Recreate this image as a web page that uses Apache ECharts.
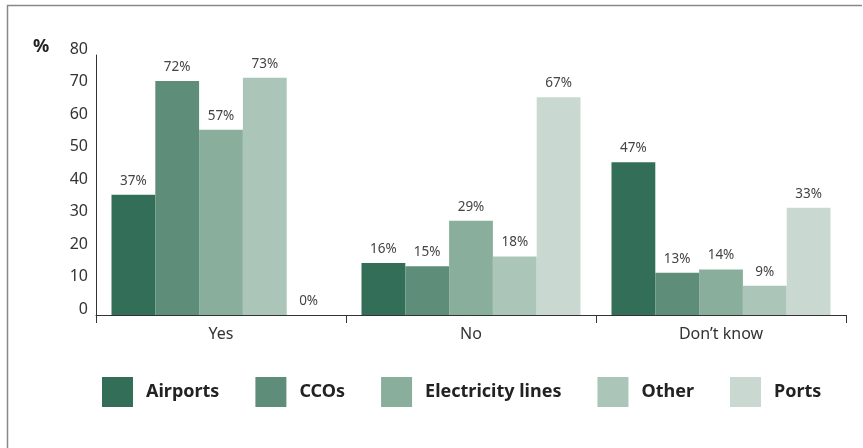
<!DOCTYPE html>
<html>
<head>
<meta charset="utf-8">
<script src="https://cdn.jsdelivr.net/npm/echarts@6/dist/echarts.min.js"></script>
<style>
  html, body { margin: 0; padding: 0; background: #fff; }
  #chart { width: 863px; height: 448px; }
</style>
</head>
<body>
<div id="chart"></div>
<script>
var categories = ['Yes', 'No', 'Don\u2019t know'];
var seriesNames = ['Airports', 'CCOs', 'Electricity lines', 'Other', 'Ports'];
var airports = [37, 16, 47];
var ccos = [72, 15, 13];
var electricity = [57, 29, 14];
var other = [73, 18, 9];
var ports = [0, 67, 33];
var yTicks = [0, 10, 20, 30, 40, 50, 60, 70, 80];

var colors = ['#336f58', '#5e8e79', '#8aae9c', '#abc5b8', '#c9d9d1'];
var allData = [airports, ccos, electricity, other, ports];
var font = 'Noto Sans';

var series = [];
for (var i = 0; i < seriesNames.length; i++) {
    series.push({
        name: seriesNames[i],
        type: 'bar',
        data: allData[i],
        barGap: '0%',
        barCategoryGap: '12.4%',
        itemStyle: { color: colors[i] },
        label: {
            show: true,
            position: 'top',
            distance: 7,
            formatter: '{c}%',
            fontFamily: font,
            fontSize: 13.5,
            color: '#444'
        }
    });
}

var myChart = echarts.init(document.getElementById('chart'));
var option = {
    animation: false,
    color: colors,
    grid: { left: 96, right: 17, top: 55, bottom: 133 },
    legend: {
        left: 97,
        top: 372,
        itemWidth: 31,
        itemHeight: 30,
        itemGap: 36,
        icon: 'rect',
        textStyle: { fontFamily: font, fontSize: 18, fontWeight: 'bold', color: '#222', padding: [0, 0, 0, 8] },
        data: seriesNames
    },
    xAxis: {
        type: 'category',
        data: categories,
        axisLine: { lineStyle: { color: '#333', width: 1 } },
        axisTick: { show: true, length: 8, lineStyle: { color: '#333' } },
        axisLabel: { fontFamily: font, fontSize: 16, color: '#333', margin: 11 }
    },
    yAxis: {
        type: 'value',
        min: yTicks[0],
        max: yTicks[yTicks.length - 1],
        interval: 10,
        axisLine: { show: true, lineStyle: { color: '#333', width: 1 } },
        axisTick: { show: false },
        splitLine: { show: false },
        axisLabel: { fontFamily: font, fontSize: 16, color: '#333', margin: 8, verticalAlign: 'bottom', padding: [0, 0, -2, 0] }
    },
    graphic: [
        { type: 'line', shape: { x1: 7.5, y1: 5, x2: 7.5, y2: 448 }, style: { stroke: '#888', lineWidth: 1.5 } },
        { type: 'line', shape: { x1: 7, y1: 5.5, x2: 862, y2: 5.5 }, style: { stroke: '#888', lineWidth: 1.5 } },
        { type: 'text', left: 33, top: 38, style: { text: '%', font: 'bold 18px "Noto Sans"', fill: '#222' } }
    ],
    series: series
};
myChart.setOption(option);
</script>
</body>
</html>
